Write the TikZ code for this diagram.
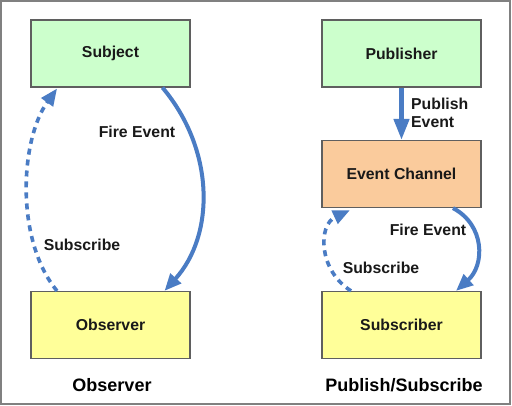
\documentclass[tikz,border=0pt]{standalone}
\usepackage{fontspec}
\setmainfont{Liberation Sans}
\usetikzlibrary{arrows.meta}
\definecolor{boxgreen}{HTML}{CCFFCC}
\definecolor{boxorange}{HTML}{FACB9C}
\definecolor{boxyellow}{HTML}{FFFF99}
\definecolor{arrowblue}{HTML}{4A7CC4}
\definecolor{edgegray}{HTML}{5F5F5F}
\tikzset{
  box/.style={draw=edgegray, line width=1.2pt, minimum width=159pt, minimum height=67pt, inner sep=0pt,
    font=\fontsize{15.8}{18}\selectfont\bfseries, text=black!90},
  lbl/.style={font=\fontsize{15.8}{18}\selectfont\bfseries, text=black!90, inner sep=0pt},
  ttl/.style={font=\fontsize{18}{21}\selectfont\bfseries, text=black, inner sep=0pt},
  flow/.style={draw=arrowblue, line width=4pt, -{Triangle[length=17pt,width=14pt]}},
  subs/.style={draw=arrowblue, line width=3.6pt, dash pattern=on 6pt off 5pt, -{Triangle[length=17pt,width=14pt]}},
}
\begin{document}
\begin{tikzpicture}[x=1pt,y=-1pt]
\useasboundingbox (0,0) rectangle (512,406);
\fill[white] (0,0) rectangle (512,406);
\draw[gray, line width=2pt] (1,1) rectangle (510,404);

\node[box, fill=boxgreen] (subject) at (110.5,53.5) {Subject};
\node[box, fill=boxyellow] (observer) at (110.5,325) {Observer};
\node[box, fill=boxgreen] (publisher) at (401.5,53.5) {Publisher};
\node[box, fill=boxorange] (channel) at (401.5,174) {Event Channel};
\node[box, fill=boxyellow] (subscriber) at (401.5,325) {Subscriber};

\node[ttl] (t1) at (112,385) {Observer};
\node[ttl] (t2) at (404,385) {Publish/Subscribe};

% left: fire event
\draw[flow] ([xshift=52pt]subject.south) .. controls (215,150) and (215,235) .. ([xshift=54pt]observer.north);
\node[lbl] (fe1) at (137,132) {Fire Event};
% left: subscribe
\draw[subs] ([xshift=-53.5pt]observer.north) .. controls (15,240) and (20,140) .. ([xshift=-53.5pt,yshift=-1pt]subject.south);
\node[lbl] (sb1) at (82,245) {Subscribe};

% middle: publish
\draw[draw=arrowblue, line width=4.5pt, -{Triangle[length=21pt,width=15pt]}] (publisher.south) -- (channel.north);
\node[lbl, align=left, anchor=west] (pe) at (411,112.5) {Publish\\Event};

% right: fire event
\draw[flow] ([xshift=51.5pt]channel.south) .. controls (485,225) and (485,265) .. ([xshift=54.5pt]subscriber.north);
\node[lbl] (fe2) at (428,230) {Fire Event};
% right: subscribe
\draw[subs] ([xshift=-50.5pt]subscriber.north) .. controls (318,270) and (318,225) .. ([xshift=-51.5pt,yshift=-2pt]channel.south);
\node[lbl] (sb2) at (381,268) {Subscribe};
\end{tikzpicture}
\end{document}
